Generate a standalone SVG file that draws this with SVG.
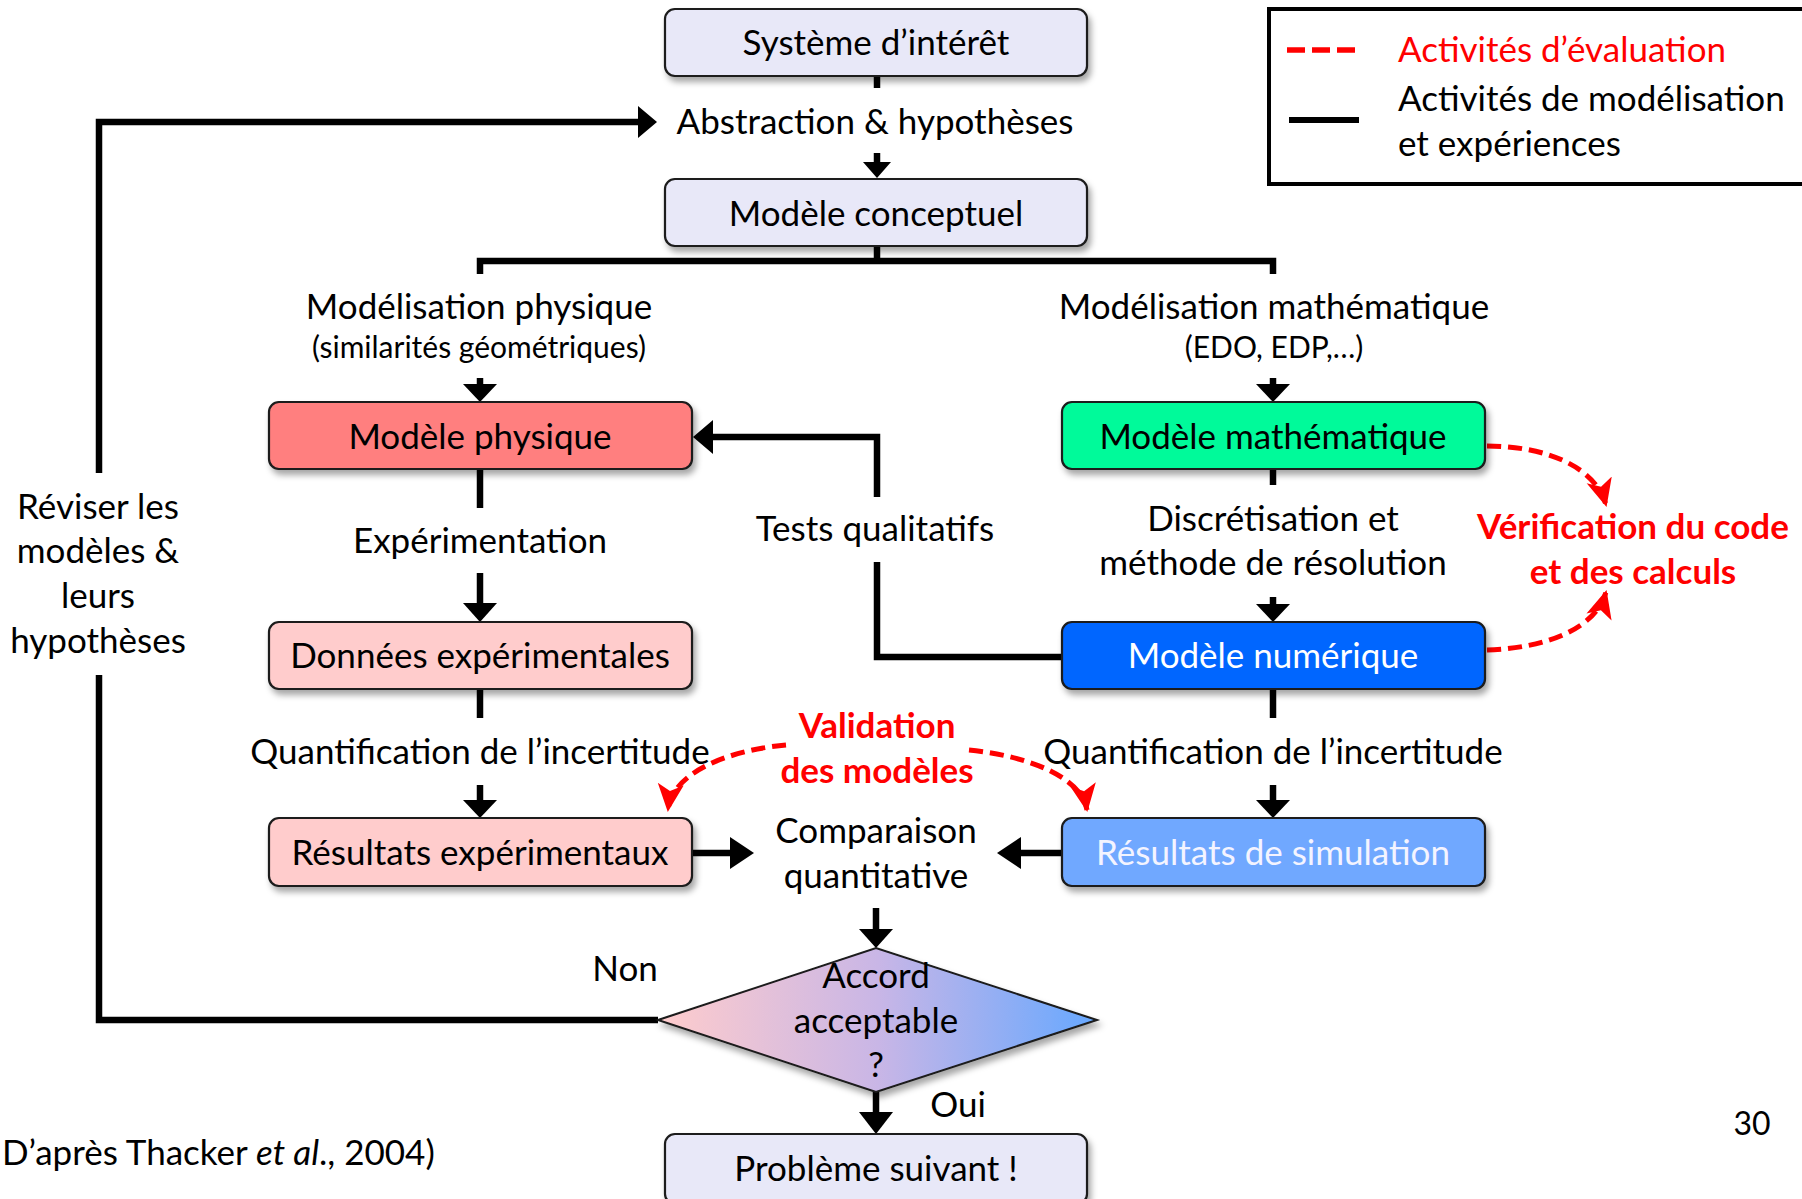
<svg xmlns="http://www.w3.org/2000/svg" width="1802" height="1199" viewBox="0 0 1802 1199">
<defs>
<filter id="sh" x="-10%" y="-20%" width="125%" height="150%">
<feDropShadow dx="3" dy="5" stdDeviation="3" flood-color="#000" flood-opacity="0.35"/>
</filter>
<linearGradient id="dg" x1="0" y1="0" x2="1" y2="0">
<stop offset="0" stop-color="#FFCCCC"/>
<stop offset="0.5" stop-color="#C9B6E6"/>
<stop offset="1" stop-color="#66A8FF"/>
</linearGradient>
<marker id="ah" markerUnits="userSpaceOnUse" markerWidth="32" markerHeight="30" refX="26" refY="13" orient="auto" viewBox="0 0 32 26">
<path d="M0,0 L28,13 L0,26 L7,13 z" fill="#FF0000"/>
</marker>
<style>
text{font-family:Lato,"Liberation Sans",sans-serif;font-size:35px;fill:#000;text-anchor:middle}
.box{stroke:#1a1a1a;stroke-width:2.2}
.ln{fill:none;stroke:#000;stroke-width:6.5}
.red{fill:none;stroke:#FF0000;stroke-width:5;stroke-dasharray:14 7}
.hd{fill:#000;stroke:none}
.rt{fill:#FF0000;font-weight:bold}
.sm{font-size:30px}
</style>
</defs>
<rect width="1802" height="1199" fill="#fff"/>

<g id="connectors">
<line class="ln" x1="877" y1="76" x2="877" y2="88"/>
<line class="ln" x1="877" y1="153" x2="877" y2="164"/>
<polygon class="hd" points="863,162 891,162 877,178"/>
<line class="ln" x1="877" y1="246" x2="877" y2="261"/>
<polyline class="ln" points="480,274 480,261 1273,261 1273,274" stroke-linejoin="miter"/>
<line class="ln" x1="480" y1="378" x2="480" y2="386"/>
<polygon class="hd" points="463,384 497,384 480,402"/>
<line class="ln" x1="1273" y1="378" x2="1273" y2="386"/>
<polygon class="hd" points="1256,384 1290,384 1273,402"/>
<line class="ln" x1="480" y1="469" x2="480" y2="508"/>
<line class="ln" x1="480" y1="573" x2="480" y2="606"/>
<polygon class="hd" points="463,603 497,603 480,622"/>
<line class="ln" x1="480" y1="689" x2="480" y2="718"/>
<line class="ln" x1="480" y1="785" x2="480" y2="802"/>
<polygon class="hd" points="463,800 497,800 480,818"/>
<line class="ln" x1="1273" y1="469" x2="1273" y2="485"/>
<line class="ln" x1="1273" y1="597" x2="1273" y2="606"/>
<polygon class="hd" points="1256,604 1290,604 1273,622"/>
<line class="ln" x1="1273" y1="689" x2="1273" y2="718"/>
<line class="ln" x1="1273" y1="785" x2="1273" y2="802"/>
<polygon class="hd" points="1256,800 1290,800 1273,818"/>
<polyline class="ln" points="1062,657 877,657 877,562"/>
<polyline class="ln" points="877,497 877,437 710,437"/>
<polygon class="hd" points="713,420 713,454 693,437"/>
<line class="ln" x1="693" y1="853" x2="733" y2="853"/>
<polygon class="hd" points="730,837 730,869 754,853"/>
<line class="ln" x1="1062" y1="853" x2="1018" y2="853"/>
<polygon class="hd" points="1021,837 1021,869 997,853"/>
<line class="ln" x1="876" y1="908" x2="876" y2="932"/>
<polygon class="hd" points="859,929 893,929 876,948"/>
<line class="ln" x1="876" y1="1092" x2="876" y2="1115"/>
<polygon class="hd" points="859,1112 893,1112 876,1134"/>
<polyline class="ln" points="658,1020 99,1020 99,675"/>
<polyline class="ln" points="99,473 99,122 640,122"/>
<polygon class="hd" points="638,106 638,138 657,122"/>
<path class="red" d="M1487,446 C1548,446 1596,468 1606,505" marker-end="url(#ah)"/>
<path class="red" d="M1487,650 C1548,648 1596,628 1606,592" marker-end="url(#ah)"/>
<path class="red" d="M786,745 C730,750 672,772 668,810" marker-end="url(#ah)"/>
<path class="red" d="M969,750 C1030,756 1082,778 1087,810" marker-end="url(#ah)"/>
</g>

<g id="n-systeme"><rect class="box" filter="url(#sh)" x="665" y="9" width="422" height="67" rx="10" fill="#E8E8F8"/><text x="876" y="55">Système d’intérêt</text></g>
<g id="n-abstraction"><text x="875" y="134">Abstraction &amp; hypothèses</text></g>
<g id="n-conceptuel"><rect class="box" filter="url(#sh)" x="665" y="179" width="422" height="67" rx="10" fill="#E8E8F8"/><text x="876" y="226">Modèle conceptuel</text></g>
<g id="n-modphys"><text x="479" y="319">Modélisation physique</text><text class="sm" x="479" y="358">(similarités géométriques)</text></g>
<g id="n-modmath"><text x="1274" y="319">Modélisation mathématique</text><text class="sm" x="1274" y="358">(EDO, EDP,…)</text></g>
<g id="n-physique"><rect class="box" filter="url(#sh)" x="269" y="402" width="423" height="67" rx="10" fill="#FF7F7F"/><text x="480" y="449">Modèle physique</text></g>
<g id="n-experimentation"><text x="480" y="553">Expérimentation</text></g>
<g id="n-donnees"><rect class="box" filter="url(#sh)" x="269" y="622" width="423" height="67" rx="10" fill="#FFCCCC"/><text x="480" y="668">Données expérimentales</text></g>
<g id="n-quant-l"><text x="480" y="764">Quantification de l’incertitude</text></g>
<g id="n-resexp"><rect class="box" filter="url(#sh)" x="269" y="818" width="423" height="68" rx="10" fill="#FFCCCC"/><text x="480" y="865">Résultats expérimentaux</text></g>
<g id="n-math"><rect class="box" filter="url(#sh)" x="1062" y="402" width="423" height="67" rx="10" fill="#00FA9A"/><text x="1273" y="449">Modèle mathématique</text></g>
<g id="n-discret"><text x="1273" y="531">Discrétisation et</text><text x="1273" y="575">méthode de résolution</text></g>
<g id="n-num"><rect class="box" filter="url(#sh)" x="1062" y="622" width="423" height="67" rx="10" fill="#0066FF"/><text x="1273" y="668" style="fill:#fff">Modèle numérique</text></g>
<g id="n-quant-r"><text x="1273" y="764">Quantification de l’incertitude</text></g>
<g id="n-ressim"><rect class="box" filter="url(#sh)" x="1062" y="818" width="423" height="68" rx="10" fill="#70A8FF"/><text x="1273" y="865" style="fill:#F4F4FF">Résultats de simulation</text></g>
<g id="n-tests"><text x="875" y="541">Tests qualitatifs</text></g>
<g id="n-comparaison"><text x="876" y="843">Comparaison</text><text x="876" y="888">quantitative</text></g>
<g id="n-validation"><text class="rt" x="877" y="738">Validation</text><text class="rt" x="877" y="783">des modèles</text></g>
<g id="n-verification"><text class="rt" x="1633" y="539">Vérification du code</text><text class="rt" x="1633" y="584">et des calculs</text></g>
<g id="n-accord"><polygon points="658,1020 876,948 1097,1020 876,1092" fill="url(#dg)" stroke="#1a1a1a" stroke-width="2" filter="url(#sh)"/><text x="876" y="988">Accord</text><text x="876" y="1033">acceptable</text><text x="876" y="1077">?</text></g>
<g id="n-non"><text x="625" y="981">Non</text></g>
<g id="n-oui"><text x="958" y="1117">Oui</text></g>
<g id="n-reviser"><text x="98" y="519">Réviser les</text><text x="98" y="563">modèles &amp;</text><text x="98" y="608">leurs</text><text x="98" y="653">hypothèses</text></g>
<g id="n-probleme"><rect class="box" filter="url(#sh)" x="665" y="1134" width="422" height="70" rx="10" fill="#E8E8F8"/><text x="876" y="1181">Problème suivant !</text></g>
<g id="legend">
<rect x="1269" y="9" width="560" height="175" fill="#fff" stroke="#000" stroke-width="4"/>
<line x1="1287" y1="50" x2="1357" y2="50" stroke="#FF0000" stroke-width="5.5" stroke-dasharray="18 7"/>
<line x1="1289" y1="120" x2="1359" y2="120" stroke="#000" stroke-width="6"/>
<text x="1398" y="62" style="text-anchor:start;fill:#FF0000">Activités d’évaluation</text>
<text x="1398" y="111" style="text-anchor:start">Activités de modélisation</text>
<text x="1398" y="156" style="text-anchor:start">et expériences</text>
</g>
<text x="2" y="1165" style="text-anchor:start">D’après Thacker <tspan font-style="italic">et al</tspan>., 2004)</text>
<text x="1752" y="1135" style="font-size:32px">30</text>
</svg>
